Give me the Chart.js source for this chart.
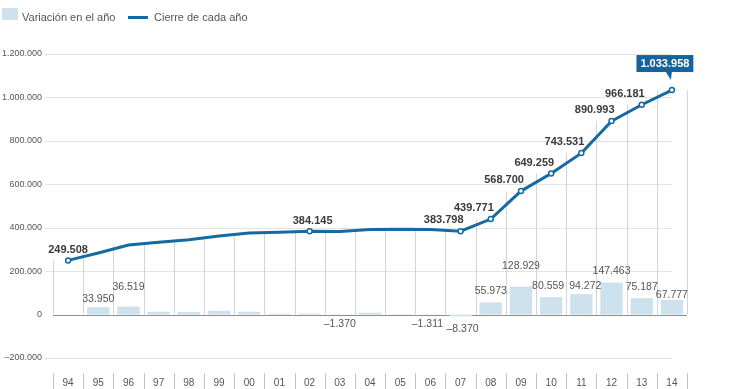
<!DOCTYPE html>
<html>
<head>
<meta charset="utf-8">
<script src="https://cdn.jsdelivr.net/npm/chart.js@4.4.1/dist/chart.umd.min.js"></script>
<style>
  body { margin: 0; background: #fff; font-family: 'Liberation Sans', Arial, sans-serif; }
  .wrap { position: relative; width: 740px; height: 389px; }
  .legend { position: absolute; top: 8px; left: 2px; font-size: 11px; color: #555; }
  .legend span { position: absolute; white-space: nowrap; }
  .sw-bar { width: 16px; height: 12px; background: #cde2ec; }
  .sw-line { width: 20px; height: 3px; background: #176aa1; top: 8px; left: 126px; }
</style>
</head>
<body>
<div class="wrap">
  <canvas id="chart" width="740" height="389"></canvas>
  <div class="legend">
    <span class="sw-bar" style="left:0;top:0"></span>
    <span style="left:20px;top:3px">Variación en el año</span>
    <span class="sw-line"></span>
    <span style="left:152px;top:3px">Cierre de cada año</span>
  </div>
</div>
<script>
const years = ['94','95','96','97','98','99','00','01','02','03','04','05','06','07','08','09','10','11','12','13','14'];
const variacion = [null, 33950, 36519, 12900, 11500, 17800, 13000, 3900, 5068, -1370, 8500, 2204, -1311, -8370, 55973, 128929, 80559, 94272, 147463, 75187, 67777];
const cierre = [249508, 283458, 319977, 332877, 344377, 362177, 375177, 379077, 384145, 382775, 391275, 393479, 392168, 383798, 439771, 568700, 649259, 743531, 890993, 966181, 1033958];
const yTicks = [-200000, 0, 200000, 400000, 600000, 800000, 1000000, 1200000];

// which values get a printed label
const cierreLabeled = [0, 8, 13, 14, 15, 16, 17, 18, 19, 20];
const variacionLabeled = [1, 2, 9, 12, 13, 14, 15, 16, 17, 18, 19, 20];

const LINE = '#176aa1';
const BAR = '#cde2ec';

function fmt(v) {
  const s = Math.abs(v).toString().replace(/\B(?=(\d{3})+(?!\d))/g, '.');
  return v < 0 ? '\u2013' + s : s;
}

const guides = {
  id: 'guides',
  beforeDatasetsDraw(chart) {
    const { ctx, chartArea: a, scales: { x, y } } = chart;
    ctx.save();
    ctx.lineWidth = 1;
    yTicks.forEach(v => {
      const py = Math.round(y.getPixelForValue(v)) + 0.5;
      ctx.beginPath();
      if (v === 0) {
        ctx.strokeStyle = '#8f8f8f';
        ctx.moveTo(a.left, py); ctx.lineTo(a.right, py);
      } else {
        ctx.strokeStyle = '#e3e3e3';
        ctx.moveTo(a.left - 8, py); ctx.lineTo(a.right - 15, py);
      }
      ctx.stroke();
    });
    const step = x.getPixelForValue(1) - x.getPixelForValue(0);
    const y0 = y.getPixelForValue(0);
    for (let i = 0; i <= years.length; i++) {
      const px = Math.round(x.getPixelForValue(0) - step / 2 + i * step) + 0.5;
      const prev = i > 0 ? cierre[i - 1] : -Infinity;
      const next = i < years.length ? cierre[i] : -Infinity;
      const top = y.getPixelForValue(Math.max(prev, next));
      ctx.strokeStyle = '#d4d4d4';
      ctx.beginPath();
      ctx.moveTo(px, y0); ctx.lineTo(px, top);
      ctx.stroke();
      ctx.strokeStyle = '#c4c4c4';
      ctx.beginPath();
      ctx.moveTo(px, a.bottom + 15); ctx.lineTo(px, a.bottom + 31);
      ctx.stroke();
    }
    ctx.restore();
  }
};

// small nudges so neighbouring labels don't collide
const barLift = { 1: 8.5, 2: 20, 15: 20, 17: 7.5, 20: 5 };
const barDrop = { 13: 15 };
const barShift = { 12: -3, 13: 2, 16: -3, 17: 4 };

const labels = {
  id: 'labels',
  afterDatasetsDraw(chart) {
    const { ctx } = chart;
    const bars = chart.getDatasetMeta(0).data;
    const pts = chart.getDatasetMeta(1).data;
    ctx.save();
    ctx.textBaseline = 'middle';

    ctx.font = '10.5px "Liberation Sans", Arial, sans-serif';
    ctx.fillStyle = '#555';
    ctx.textAlign = 'center';
    variacionLabeled.forEach(i => {
      const b = bars[i];
      const v = variacion[i];
      const bx = b.x + (barShift[i] ?? 0);
      if (v >= 0) {
        ctx.fillText(fmt(v), bx, b.y - (barLift[i] ?? 11));
      } else {
        ctx.fillText(fmt(v), bx, b.base + (barDrop[i] ?? 10));
      }
    });

    ctx.font = 'bold 11px "Liberation Sans", Arial, sans-serif';
    ctx.fillStyle = '#3a3a3a';
    cierreLabeled.forEach(i => {
      const p = pts[i];
      if (i === years.length - 1) return;
      if (i === 0 || i === 8) {
        ctx.textAlign = 'center';
        ctx.fillText(fmt(cierre[i]), p.x + (i === 8 ? 3 : 0), p.y - 10);
      } else {
        ctx.textAlign = 'right';
        ctx.fillText(fmt(cierre[i]), p.x + 3, p.y - 11);
      }
    });

    // callout for the last value
    const last = pts[years.length - 1];
    const txt = fmt(cierre[years.length - 1]);
    const w = ctx.measureText(txt).width + 8;
    const cx = last.x - 7;
    const bTop = last.y - 35, bBot = last.y - 18;
    ctx.fillStyle = '#17649c';
    ctx.fillRect(cx - w / 2, bTop, w, bBot - bTop);
    ctx.beginPath();
    ctx.moveTo(last.x - 6, bBot);
    ctx.lineTo(last.x, bBot);
    ctx.lineTo(last.x - 1, last.y - 10);
    ctx.closePath();
    ctx.fill();
    ctx.fillStyle = '#fff';
    ctx.textAlign = 'center';
    ctx.fillText(txt, cx, (bTop + bBot) / 2 + 0.5);
    ctx.restore();
  }
};

new Chart(document.getElementById('chart'), {
  data: {
    labels: years,
    datasets: [
      {
        type: 'bar',
        label: 'Variación en el año',
        data: variacion,
        backgroundColor: BAR,
        barPercentage: 0.74,
        categoryPercentage: 1,
        order: 2
      },
      {
        type: 'line',
        label: 'Cierre de cada año',
        data: cierre,
        borderColor: LINE,
        borderWidth: 3,
        tension: 0,
        pointRadius: cierre.map((v, i) => cierreLabeled.includes(i) ? 2.5 : 0),
        pointBackgroundColor: '#fff',
        pointBorderColor: LINE,
        pointBorderWidth: 1.5,
        order: 1
      }
    ]
  },
  options: {
    responsive: false,
    animation: false,
    devicePixelRatio: 1,
    layout: { padding: { top: 54, right: 53, left: 0, bottom: 0 } },
    plugins: {
      legend: { display: false },
      tooltip: { enabled: false }
    },
    scales: {
      x: {
        offset: true,
        grid: { display: false, drawTicks: false },
        border: { display: false },
        ticks: {
          padding: 19,
          color: '#555',
          font: { family: "'Liberation Sans Narrow', 'Liberation Sans', Arial", size: 10 },
          maxRotation: 0,
          autoSkip: false
        },
        afterFit(s) { s.height = 31; }
      },
      y: {
        min: -200000,
        max: 1200000,
        grid: { display: false, drawTicks: false },
        border: { display: false },
        afterBuildTicks(s) { s.ticks = yTicks.map(v => ({ value: v })); },
        ticks: {
          padding: 11,
          color: '#555',
          font: { family: "'Liberation Sans', Arial", size: 9 },
          callback: v => fmt(v)
        },
        afterFit(s) { s.width = 53; }
      }
    }
  },
  plugins: [guides, labels]
});
</script>
</body>
</html>
